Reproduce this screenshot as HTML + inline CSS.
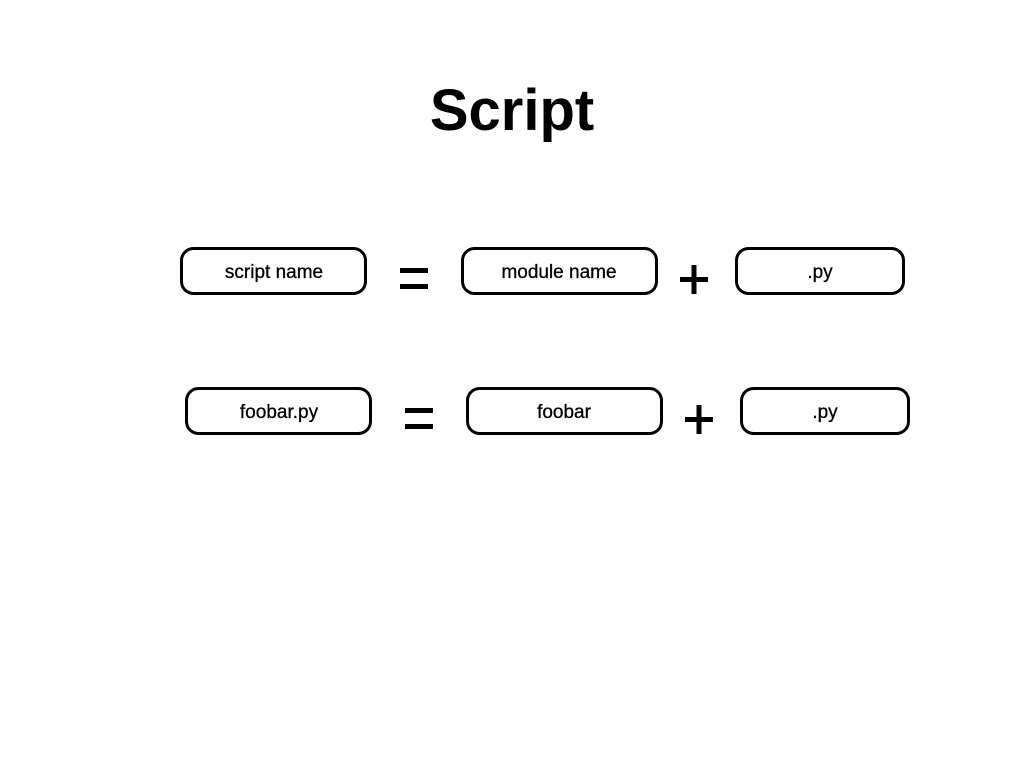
<!DOCTYPE html>
<html><head><style>body{margin:0;background:#fff}</style></head><body>
<svg width="1024" height="768" xmlns="http://www.w3.org/2000/svg" font-family="Liberation Sans, sans-serif">
<rect width="1024" height="768" fill="#fff"/>
<text x="512" y="130" text-anchor="middle" font-size="58" font-weight="bold">Script</text>
<g fill="none" stroke="#000" stroke-width="3">
<rect x="181.5" y="248.5" width="184" height="45" rx="12"/>
<rect x="462.5" y="248.5" width="194" height="45" rx="12"/>
<rect x="736.5" y="248.5" width="167" height="45" rx="12"/>
<rect x="186.5" y="388.5" width="184" height="45" rx="12"/>
<rect x="467.5" y="388.5" width="194" height="45" rx="12"/>
<rect x="741.5" y="388.5" width="167" height="45" rx="12"/>
</g>
<g font-size="19" text-anchor="middle" stroke="#000" stroke-width="0.3">
<text x="274" y="278">script name</text>
<text x="559" y="278">module name</text>
<text x="820" y="278">.py</text>
<text x="279" y="418">foobar.py</text>
<text x="564" y="418">foobar</text>
<text x="825" y="418">.py</text>
</g>
<g fill="#000">
<rect x="400" y="268" width="28" height="5"/><rect x="400" y="284" width="28" height="5"/>
<rect x="405" y="408" width="28" height="5"/><rect x="405" y="424" width="28" height="5"/>
<rect x="680" y="277" width="28" height="5"/><rect x="691.5" y="265" width="5" height="29"/>
<rect x="685" y="417" width="28" height="5"/><rect x="696.5" y="405" width="5" height="29"/>
</g>
</svg>
</body></html>
